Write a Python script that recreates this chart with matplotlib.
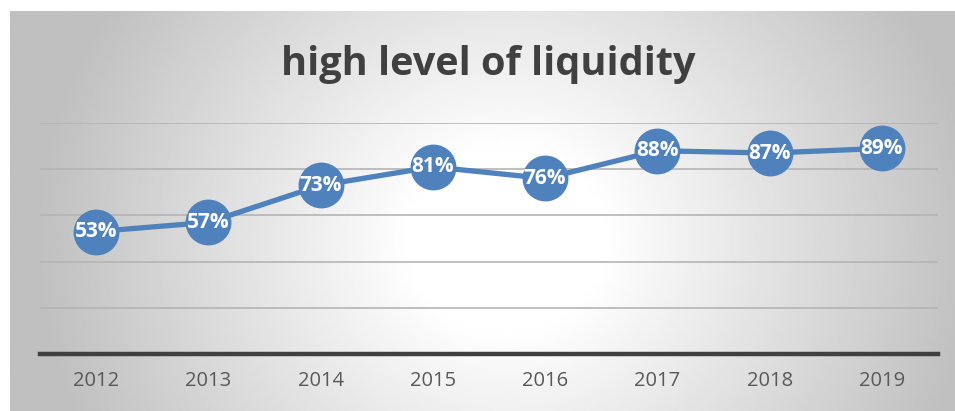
import numpy as np
import matplotlib.pyplot as plt

# data
years = ['2012', '2013', '2014', '2015', '2016', '2017', '2018', '2019']
liquidity = [0.53, 0.57, 0.73, 0.81, 0.76, 0.88, 0.87, 0.89]
labels = ['53%', '57%', '73%', '81%', '76%', '88%', '87%', '89%']

W, H = 955, 411
fig = plt.figure(figsize=(W / 100, H / 100), dpi=100)
fig.patch.set_facecolor('white')

# radial gradient panel
bg = fig.add_axes([10 / W, 0, 945 / W, 400 / H])
gx, gy = np.meshgrid(np.linspace(-1, 1, 600), np.linspace(-1, 1, 300))
r = np.sqrt(((gx - 0.05) / 1.0) ** 2 + ((gy - 0.15) / 2.2) ** 2)
shade = np.clip(1 - 0.25 * np.clip((r - 0.2) / 0.8, 0, 1), 0, 1)
bg.imshow(shade, cmap='gray', vmin=0, vmax=1, aspect='auto', interpolation='bilinear')
bg.axis('off')

ax = fig.add_axes([40 / W, 57 / H, 898 / W, 231 / H])
ax.patch.set_alpha(0)
x = np.arange(len(years))
ax.set_xlim(-0.5, len(years) - 0.5)
ax.set_ylim(0, 1)

for g in [0.2, 0.4, 0.6, 0.8, 1.0]:
    ax.axhline(g, color='#b4b4b4', lw=1.2, zorder=1)
ax.axhline(0, color='#404040', lw=3.2, zorder=2, clip_on=False)

ax.plot(x, liquidity, color='#4f81bd', lw=3.8, marker='o', markersize=32,
        markerfacecolor='#4f81bd', markeredgecolor='#4f81bd', zorder=3, clip_on=False)
for xi, yi, lab in zip(x, liquidity, labels):
    ax.text(xi, yi, lab, ha='center', va='center', color='white',
            fontsize=15, fontweight='bold', family='Open Sans', zorder=4)

ax.set_xticks(x)
ax.set_xticklabels(years, fontsize=14.5, color='#595959', family='Open Sans')
ax.tick_params(axis='x', length=0, pad=12)
ax.set_yticks([])
for s in ax.spines.values():
    s.set_visible(False)

fig.text(488 / W, 1 - 65 / H, 'high level of liquidity', ha='center', va='center',
         fontsize=28.5, fontweight='bold', color='#404040', family='Open Sans')

fig.savefig('out.png', dpi=100)
